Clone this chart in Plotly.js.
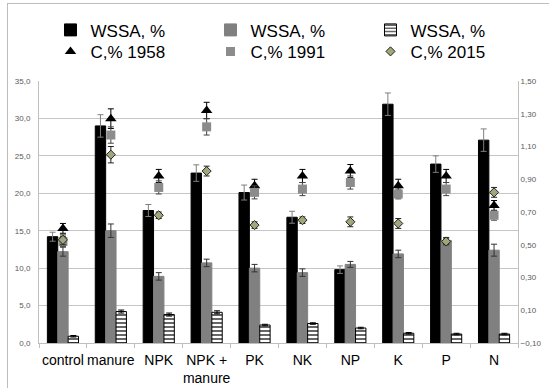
<!DOCTYPE html>
<html>
<head>
<meta charset="utf-8">
<script src="https://cdn.plot.ly/plotly-3.0.1.min.js"></script>
<style>
  html, body { margin: 0; padding: 0; background: #fff; }
  #wrap { position: relative; width: 549px; height: 388px; }
  #chart { width: 549px; height: 388px; }
  #frame { position: absolute; left: 7px; top: 3px; width: 560px; height: 400px;
           border-left: 1px solid #bdbdbd; border-top: 1px solid #bdbdbd; pointer-events: none; }
</style>
</head>
<body>
<div id="wrap"><div id="chart"></div><div id="frame"></div></div>
<script>
// Categories (treatments)
const categories = ["control", "manure", "NPK", "NPK +<br>manure", "PK", "NK", "NP", "K", "P", "N"];

// WSSA, % bars (left axis)
const wssaBlack      = [14.2, 29.0, 17.7, 22.7, 20.1, 16.8, 9.8, 31.9, 23.9, 27.1];
const wssaBlackErr   = [0.6, 1.5, 0.8, 1.1, 1.0, 0.8, 0.5, 1.5, 1.1, 1.5];
const wssaGray       = [12.2, 15.0, 8.9, 10.7, 10.0, 9.4, 10.5, 11.9, 13.7, 12.4];
const wssaGrayErr    = [0.6, 0.9, 0.5, 0.5, 0.5, 0.5, 0.4, 0.5, 0.4, 0.8];
const wssaStriped    = [0.9, 4.2, 3.8, 4.1, 2.4, 2.6, 2.0, 1.3, 1.2, 1.2];
const wssaStripedErr = [0.1, 0.2, 0.2, 0.2, 0.1, 0.1, 0.1, 0.1, 0.1, 0.1];

// C, % markers (right axis)
const c1958    = [0.60, 1.27, 0.92, 1.32, 0.86, 0.92, 0.95, 0.86, 0.92, 0.74];
const c1958Err = [0.03, 0.06, 0.04, 0.05, 0.04, 0.04, 0.04, 0.04, 0.04, 0.03];
const c1991    = [0.52, 1.17, 0.85, 1.22, 0.82, 0.84, 0.88, 0.81, 0.84, 0.68];
const c1991Err = [0.03, 0.05, 0.04, 0.05, 0.04, 0.04, 0.04, 0.03, 0.04, 0.03];
const c2015    = [0.53, 1.05, 0.68, 0.95, 0.62, 0.65, 0.64, 0.63, 0.52, 0.82];
const c2015Err = [0.03, 0.05, 0.02, 0.03, 0.02, 0.02, 0.03, 0.03, 0.02, 0.03];

const barTraces = [
  { type: 'bar', name: 'WSSA, %', x: categories, y: wssaBlack, legend: 'legend',
    marker: { color: '#000000', line: { color: '#000000', width: 1 } },
    error_y: { type: 'data', array: wssaBlackErr, color: '#7f7f7f', thickness: 1, width: 3 } },
  { type: 'bar', name: 'WSSA, %', x: categories, y: wssaGray, legend: 'legend',
    marker: { color: '#808080', line: { color: '#808080', width: 1 } },
    error_y: { type: 'data', array: wssaGrayErr, color: '#333333', thickness: 1, width: 3 } },
  { type: 'bar', name: 'WSSA, %', x: categories, y: wssaStriped, legend: 'legend',
    marker: { color: '#ffffff', line: { color: '#000000', width: 1 },
              pattern: { shape: '-', fgcolor: '#000000', bgcolor: '#ffffff', size: 4, solidity: 0.3 } },
    error_y: { type: 'data', array: wssaStripedErr, color: '#000000', thickness: 1, width: 3 } }
];

const markerTraces = [
  { type: 'scatter', mode: 'markers', name: 'C,% 1958', x: categories, y: c1958, yaxis: 'y2', legend: 'legend2',
    marker: { symbol: 'triangle-up', size: 10, color: '#000000' },
    error_y: { type: 'data', array: c1958Err, color: '#000000', thickness: 1, width: 3 } },
  { type: 'scatter', mode: 'markers', name: 'C,% 1991', x: categories, y: c1991, yaxis: 'y2', legend: 'legend2',
    marker: { symbol: 'square', size: 9, color: '#8c8c8c' },
    error_y: { type: 'data', array: c1991Err, color: '#444444', thickness: 1, width: 3 } },
  { type: 'scatter', mode: 'markers', name: 'C,% 2015', x: categories, y: c2015, yaxis: 'y2', legend: 'legend2',
    marker: { symbol: 'diamond', size: 7, color: '#a2a77a', line: { color: '#222222', width: 1 } },
    error_y: { type: 'data', array: c2015Err, color: '#222222', thickness: 1, width: 3 } }
];

const legendCommon = {
  orientation: 'h', xanchor: 'left', yanchor: 'top',
  font: { size: 17, color: '#000000' },
  entrywidth: 115, traceorder: 'normal', itemwidth: 30,
  bgcolor: 'rgba(0,0,0,0)'
};

const layout = {
  width: 549, height: 388,
  margin: { l: 39, r: 31, t: 79, b: 45 },
  paper_bgcolor: '#ffffff', plot_bgcolor: '#ffffff',
  separators: ', ',
  font: { family: 'Liberation Sans, Arial, sans-serif', color: '#000000' },
  barmode: 'group', bargap: 0.35, bargroupgap: 0.0,
  showlegend: true,
  legend: Object.assign({}, legendCommon, { x: 0.024, y: 1.262 }),
  legend2: Object.assign({}, legendCommon, { x: 0.024, y: 1.180 }),
  xaxis: {
    type: 'category', range: [-0.5, 9.5], tickangle: 0,
    tickfont: { size: 14, color: '#000000' },
    showgrid: false, showline: true, linecolor: '#bfbfbf', linewidth: 1,
    ticks: 'outside', tickson: 'boundaries', ticklen: 4, tickcolor: '#bfbfbf',
    zeroline: false, ticklabelstandoff: 4
  },
  yaxis: {
    range: [0, 35], dtick: 5, tick0: 0, tickformat: '.1f',
    tickfont: { size: 8, color: '#595959' },
    showgrid: true, gridcolor: '#c6c6c6', gridwidth: 1,
    showline: true, linecolor: '#bfbfbf', linewidth: 1,
    zeroline: false, ticks: '', ticklabelstandoff: 6
  },
  yaxis2: {
    overlaying: 'y', side: 'right',
    range: [-0.1, 1.5], dtick: 0.2, tick0: -0.1, tickformat: '.2f',
    tickfont: { size: 8, color: '#595959' },
    showgrid: false, showline: true, linecolor: '#bfbfbf', linewidth: 1,
    zeroline: false, ticks: ''
  }
};

Plotly.newPlot('chart', barTraces.concat(markerTraces), layout, { displayModeBar: false, staticPlot: true });
</script>
</body>
</html>
